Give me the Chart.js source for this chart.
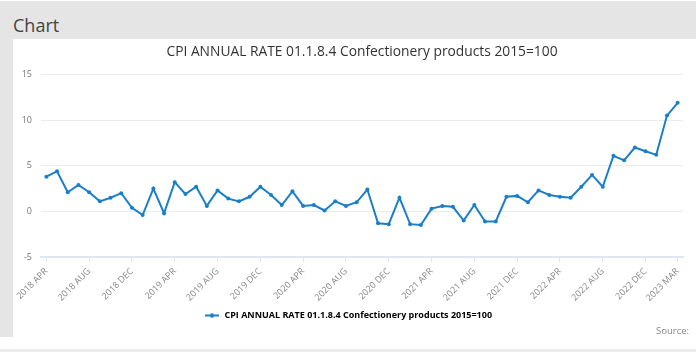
<!DOCTYPE html>
<html>
<head>
<meta charset="utf-8">
<script src="https://cdn.jsdelivr.net/npm/chart.js@4/dist/chart.umd.min.js"></script>
<style>
  html, body { margin: 0; padding: 0; background: #fff; width: 696px; height: 352px; overflow: hidden; font-family: "Open Sans", sans-serif; }
  #topband { position: absolute; left: 0; top: 1px; width: 696px; height: 38px; background: #e5e5e5; }
  #heading { position: absolute; left: 13px; top: 13px; font-size: 18px; color: #444; line-height: 22px; }
  #leftband { position: absolute; left: 0; top: 39px; width: 13px; height: 298px; background: #e5e5e5; }
  #bottomband { position: absolute; left: 0; top: 349px; width: 696px; height: 3px; background: #ececec; }
  #wrap { position: absolute; left: 13px; top: 39px; width: 683px; height: 298px; }
  #source { position: absolute; left: 656px; top: 324px; font-size: 9.5px; color: #888; }
</style>
</head>
<body>
<div id="topband"><div id="heading">Chart</div></div>
<div id="leftband"></div>
<div id="bottomband"></div>
<div id="wrap"><canvas id="chart"></canvas></div>
<div id="source">Source:</div>
<script>
const seriesName = 'CPI ANNUAL RATE 01.1.8.4 Confectionery products 2015=100';

const months = [
  '2018 APR', '2018 MAY', '2018 JUN', '2018 JUL', '2018 AUG', '2018 SEP', '2018 OCT', '2018 NOV', '2018 DEC',
  '2019 JAN', '2019 FEB', '2019 MAR', '2019 APR', '2019 MAY', '2019 JUN', '2019 JUL', '2019 AUG', '2019 SEP',
  '2019 OCT', '2019 NOV', '2019 DEC', '2020 JAN', '2020 FEB', '2020 MAR', '2020 APR', '2020 MAY', '2020 JUN',
  '2020 JUL', '2020 AUG', '2020 SEP', '2020 OCT', '2020 NOV', '2020 DEC', '2021 JAN', '2021 FEB', '2021 MAR',
  '2021 APR', '2021 MAY', '2021 JUN', '2021 JUL', '2021 AUG', '2021 SEP', '2021 OCT', '2021 NOV', '2021 DEC',
  '2022 JAN', '2022 FEB', '2022 MAR', '2022 APR', '2022 MAY', '2022 JUN', '2022 JUL', '2022 AUG', '2022 SEP',
  '2022 OCT', '2022 NOV', '2022 DEC', '2023 JAN', '2023 FEB', '2023 MAR'
];

const rates = [
  3.8, 4.4, 2.1, 2.9, 2.1, 1.1, 1.5, 2.0, 0.4, -0.4,
  2.5, -0.2, 3.2, 1.9, 2.7, 0.6, 2.3, 1.4, 1.1, 1.6,
  2.7, 1.8, 0.7, 2.2, 0.6, 0.7, 0.1, 1.1, 0.6, 1.0,
  2.4, -1.3, -1.4, 1.5, -1.4, -1.5, 0.3, 0.6, 0.5, -1.0,
  0.7, -1.1, -1.1, 1.6, 1.7, 1.0, 2.3, 1.8, 1.6, 1.5,
  2.7, 4.0, 2.7, 6.1, 5.6, 7.0, 6.6, 6.2, 10.5, 11.9
];

const yTicks = [-5, 0, 5, 10, 15];

const lineColor = '#1a7fc6';

// small legend marker: line with a dot
const marker = document.createElement('canvas');
marker.width = 16;
marker.height = 8;
const mctx = marker.getContext('2d');
mctx.strokeStyle = lineColor;
mctx.lineWidth = 2;
mctx.beginPath();
mctx.moveTo(1, 4);
mctx.lineTo(15, 4);
mctx.stroke();
mctx.fillStyle = lineColor;
mctx.beginPath();
mctx.arc(8, 4, 2.2, 0, Math.PI * 2);
mctx.fill();

const ctx = document.getElementById('chart').getContext('2d');

new Chart(ctx, {
  type: 'line',
  data: {
    labels: months,
    datasets: [{
      label: seriesName,
      data: rates,
      borderColor: lineColor,
      backgroundColor: lineColor,
      borderWidth: 2,
      pointRadius: 2,
      pointHoverRadius: 3,
      pointBackgroundColor: lineColor,
      pointBorderWidth: 0,
      tension: 0
    }]
  },
  options: {
    responsive: true,
    maintainAspectRatio: false,
    animation: false,
    layout: { padding: { left: 0, right: 13, top: 0, bottom: 7 } },
    plugins: {
      title: {
        display: true,
        text: seriesName,
        color: '#333',
        fullSize: false,   // centre over the plot area
        font: { family: 'Open Sans', size: 13.8, weight: 'normal' },
        padding: { top: 5, bottom: 14 }
      },
      legend: {
        position: 'bottom',
        labels: {
          color: '#333',
          font: { family: 'Open Sans', size: 9, weight: 'bold' },
          usePointStyle: true,
          pointStyleWidth: 16,
          generateLabels: (chart) => [{
            text: seriesName,
            pointStyle: marker,
            fillStyle: lineColor,
            strokeStyle: lineColor,
            lineWidth: 0,
            datasetIndex: 0
          }]
        }
      },
      tooltip: { enabled: false }
    },
    scales: {
      x: {
        offset: true,
        afterFit: (scale) => { scale.height = 44; },
        grid: {
          display: true,
          drawOnChartArea: false,
          drawTicks: true,
          tickLength: 5,
          color: '#dfe6f1'
        },
        border: { display: true, color: '#dfe6f1', width: 2 },
        ticks: {
          autoSkip: false,
          maxRotation: 45,
          minRotation: 45,
          padding: 4,
          color: '#888',
          font: { family: 'Open Sans', size: 9 },
          callback: function (value, index) {
            if (index % 4 === 0 || index === months.length - 1) {
              return months[index];
            }
            return null;
          }
        }
      },
      y: {
        min: -5,
        max: 15,
        afterFit: (scale) => { scale.width = 28; },
        afterBuildTicks: (scale) => { scale.ticks = yTicks.map(v => ({ value: v })); },
        grid: { color: '#ebebeb', lineWidth: 1, drawTicks: false },
        border: { display: false },
        ticks: {
          padding: 9,
          color: '#777',
          font: { family: 'Open Sans', size: 9 }
        }
      }
    }
  }
});
</script>
</body>
</html>
